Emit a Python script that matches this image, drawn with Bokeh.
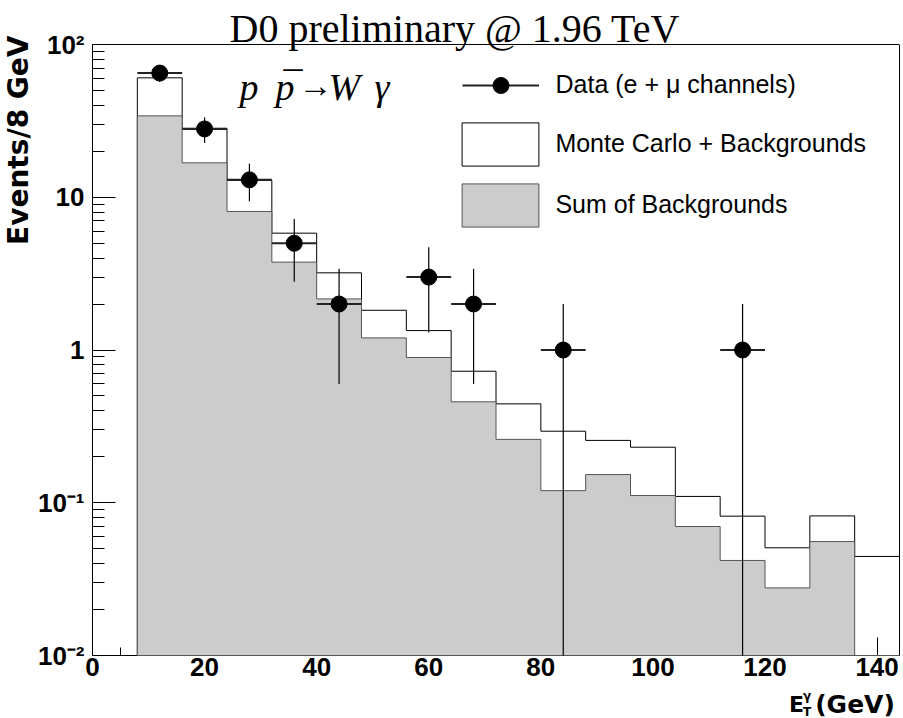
import math
from bokeh.plotting import figure
from bokeh.layouts import row, column
from bokeh.models import (ColumnDataSource, Label, Legend, LegendItem, FixedTicker,
                          Range1d, LogAxis, Span)
from bokeh.embed import file_html
from bokeh.resources import INLINE

# ---------------- data ----------------
bin_edges = [8, 16, 24, 32, 40, 48, 56, 64, 72, 80, 88, 96, 104, 112, 120, 128, 136, 144]
mc_plus_bkg = [60.5, 28.3, 12.9, 5.82, 3.20, 1.82, 1.34, 0.726, 0.444, 0.294,
               0.256, 0.231, 0.110, 0.0817, 0.0507, 0.0820, 0.0445]
sum_bkg = [34.1, 16.8, 8.07, 3.76, 2.16, 1.20, 0.893, 0.458, 0.260, 0.120,
           0.153, 0.1115, 0.0699, 0.0419, 0.0277, 0.0557, 0.0]
data_x = [12, 20, 28, 36, 44, 60, 68, 84, 116]
data_y = [65, 28, 13, 5, 2, 3, 2, 1, 1]
data_err = [8.1, 5.3, 3.6, 2.2, 1.4, 1.7, 1.4, 1.0, 1.0]
bin_half_width = 4.0

x_ticks = [0, 20, 40, 60, 80, 100, 120, 140]
x_minor = [5, 10, 15, 25, 30, 35, 45, 50, 55, 65, 70, 75, 85, 90, 95, 105, 110, 115, 125, 130, 135]
y_ticks = [0.01, 0.1, 1, 10, 100]
y_tick_labels = {0.01: "10\u207b\u00b2", 0.1: "10\u207b\u00b9", 1: "1", 10: "10", 100: "10\u00b2"}

title_text = "D0 preliminary @ 1.96 TeV"
y_title = "Events/8 GeV"
legend_labels = ["Data (e + \u03bc channels)", "Monte Carlo + Backgrounds", "Sum of Backgrounds"]

X_MIN, X_MAX = 0, 144
Y_MIN, Y_MAX = 0.01, 100

# ---------------- page geometry (pixels) ----------------
W, H = 903, 718
LEFT_W = 34            # strip holding the y-axis title
BOT_H = 30             # strip holding the x-axis title
FL, FR, FT, FB = 92, 899, 44, 655   # data box on the page
DEC_PX = (FB - FT) / (math.log10(Y_MAX) - math.log10(Y_MIN))
Y_TOP = 10 ** (math.log10(Y_MIN) + FB / DEC_PX)   # value at the top of the canvas


def dx(px):
    return X_MIN + (px - FL) * (X_MAX - X_MIN) / (FR - FL)


def dy(py):
    return 10 ** (math.log10(Y_MIN) + (FB - py) / DEC_PX)


def step_polygon(edges, vals, floor):
    xs, ys = [edges[0]], [floor]
    for i, v in enumerate(vals):
        v = max(v, floor)
        xs += [edges[i], edges[i + 1]]
        ys += [v, v]
    xs.append(edges[-1])
    ys.append(floor)
    return xs, ys


main_w, main_h = W - LEFT_W, H - BOT_H
p = figure(width=main_w, height=main_h, x_range=Range1d(X_MIN, X_MAX), y_range=Range1d(Y_MIN, Y_TOP),
           y_axis_type="log", output_backend="svg", toolbar_location=None,
           min_border_left=FL - LEFT_W, min_border_right=main_w - (FR - LEFT_W),
           min_border_top=0, min_border_bottom=main_h - FB)
p.grid.visible = False
p.outline_line_color = None
p.background_fill_color = "white"
p.border_fill_color = "white"

# histograms
mx, my = step_polygon(bin_edges, mc_plus_bkg, Y_MIN)
bx, by = step_polygon(bin_edges, sum_bkg, Y_MIN)
r_mc = p.patch(mx, my, fill_color="white", fill_alpha=0.0, line_color="black", line_width=1)
r_bkg = p.patch(bx, by, fill_color="#cccccc", line_color="#555555", line_width=1)

# data with error bars
lo = [max(v - e, Y_MIN) for v, e in zip(data_y, data_err)]
hi = [v + e for v, e in zip(data_y, data_err)]
src = ColumnDataSource(dict(x=data_x, y=data_y, lo=lo, hi=hi,
                            xl=[x - bin_half_width for x in data_x],
                            xr=[x + bin_half_width for x in data_x]))
r_yerr = p.segment(x0="x", y0="lo", x1="x", y1="hi", source=src, line_color="black", line_width=1.2)
r_xerr = p.segment(x0="xl", y0="y", x1="xr", y1="y", source=src, line_color="#222222", line_width=2)
r_pts = p.scatter(x="x", y="y", source=src, marker="circle", size=16,
                  fill_color="black", line_color="black")
for r in (r_mc, r_bkg, r_yerr, r_xerr, r_pts):
    r.level = "overlay"

# axes
xa = p.xaxis[0]
xa.ticker = FixedTicker(ticks=x_ticks, minor_ticks=x_minor)
xa.major_tick_in = 18
xa.major_tick_out = 0
xa.minor_tick_in = 8
xa.minor_tick_out = 0
xa.axis_line_color = "black"
xa.major_tick_line_color = "black"
xa.minor_tick_line_color = "black"
xa.major_label_text_font = "Liberation Sans"
xa.major_label_text_font_style = "bold"
xa.major_label_text_font_size = "26px"
xa.major_label_text_color = "black"
xa.major_label_standoff = 2

y_minor = [k * 10 ** e for e in (-2, -1, 0, 1) for k in range(2, 10)]
ya = p.yaxis[0]
ya.bounds = (Y_MIN, Y_MAX)
ya.ticker = FixedTicker(ticks=y_ticks, minor_ticks=y_minor)
ya.major_label_overrides = y_tick_labels
ya.major_tick_in = 23
ya.major_tick_out = 0
ya.minor_tick_in = 12
ya.minor_tick_out = 0
ya.axis_line_color = "black"
ya.major_tick_line_color = "black"
ya.minor_tick_line_color = "black"
ya.major_label_text_font = "Liberation Sans"
ya.major_label_text_font_style = "bold"
ya.major_label_text_font_size = "26px"
ya.major_label_text_color = "black"
ya.major_label_standoff = 8

# right and top edges of the frame
right_ax = LogAxis(bounds=(Y_MIN, Y_MAX), ticker=FixedTicker(ticks=[], minor_ticks=[]),
                   major_tick_in=0, major_tick_out=0, minor_tick_in=0, minor_tick_out=0,
                   major_label_standoff=0, axis_line_color="black")
p.add_layout(right_ax, "right")
p.add_layout(Span(location=Y_MAX, dimension="width", line_color="black", line_width=1))

# legends
leg1 = Legend(items=[LegendItem(label=legend_labels[0], renderers=[r_xerr, r_pts])],
              location=(461.5 - FL, FB - 104.7), glyph_width=77, glyph_height=40,
              label_standoff=17, padding=0, margin=0, spacing=0,
              border_line_color=None, background_fill_alpha=0,
              label_text_font="Liberation Sans", label_text_font_size="25px", label_text_color="black")
leg2 = Legend(items=[LegendItem(label=legend_labels[1], renderers=[r_mc]),
                     LegendItem(label=legend_labels[2], renderers=[r_bkg])],
              location=(452.4 - FL, FB - 231.5), glyph_width=96, glyph_height=54,
              label_standoff=7, padding=0, margin=0, spacing=7,
              border_line_color=None, background_fill_alpha=0,
              label_text_font="Liberation Sans", label_text_font_size="25px", label_text_color="black")
p.add_layout(leg1)
p.add_layout(leg2)

# title and physics label (text_baseline middle: anchor ~ 0.34 em above the baseline)
p.add_layout(Label(x=dx(229), y=dy(42 - 0.34 * 40), text=title_text,
                   text_font="Liberation Serif", text_font_size="40px",
                   text_baseline="middle", text_align="left", text_color="black"))

serif_it = dict(text_font="Liberation Serif", text_font_style="italic", text_font_size="38px",
                text_baseline="middle", text_align="left", text_color="black")
pb = 99 - 0.34 * 38
p.add_layout(Label(x=dx(239), y=dy(pb), text="p", **serif_it))
p.add_layout(Label(x=dx(275), y=dy(pb), text="p", **serif_it))
p.add_layout(Label(x=dx(280), y=dy(pb - 2), text="\u00af", **serif_it))
p.add_layout(Label(x=dx(298), y=dy(97 - 0.34 * 34), text="\u2192", text_font="Liberation Serif",
                   text_font_size="34px", text_baseline="middle", text_align="left",
                   text_color="black"))
p.add_layout(Label(x=dx(328), y=dy(pb), text="W", **serif_it))
p.add_layout(Label(x=dx(374), y=dy(pb), text="\u03b3", **serif_it))

# ---------------- y-axis title strip ----------------
left = figure(width=LEFT_W, height=H, x_range=Range1d(0, LEFT_W), y_range=Range1d(H, 0),
              x_axis_type=None, y_axis_type=None, min_border=0, outline_line_color=None,
              toolbar_location=None, output_backend="svg")
left.grid.visible = False
left.add_layout(Label(x=LEFT_W / 2 + 0.5, y=35, text=y_title, angle=math.pi / 2,
                      text_font="DejaVu Sans", text_font_style="bold", text_font_size="28px",
                      text_baseline="middle", text_align="right", text_color="black"))

# ---------------- x-axis title strip ----------------
bot = figure(width=main_w, height=BOT_H, x_range=Range1d(LEFT_W, W), y_range=Range1d(H, H - BOT_H),
             x_axis_type=None, y_axis_type=None, min_border=0, outline_line_color=None,
             toolbar_location=None, output_backend="svg")
bot.grid.visible = False
bold = dict(text_font="DejaVu Sans", text_font_style="bold", text_color="black",
            text_baseline="middle")
bot.add_layout(Label(x=898, y=703.5, text="(GeV)", text_font_size="25px", text_align="right", **bold))
bot.add_layout(Label(x=784, y=704, text="E", text_font_size="22px", text_align="left", **bold))
bot.add_layout(Label(x=799, y=695.5, text="\u03b3", text_font_size="12px", text_align="left", **bold))
bot.add_layout(Label(x=799, y=711, text="T", text_font_size="12px", text_align="left", **bold))

layout = row(left, column(p, bot))
open("out.html", "w").write(file_html(layout, INLINE))
